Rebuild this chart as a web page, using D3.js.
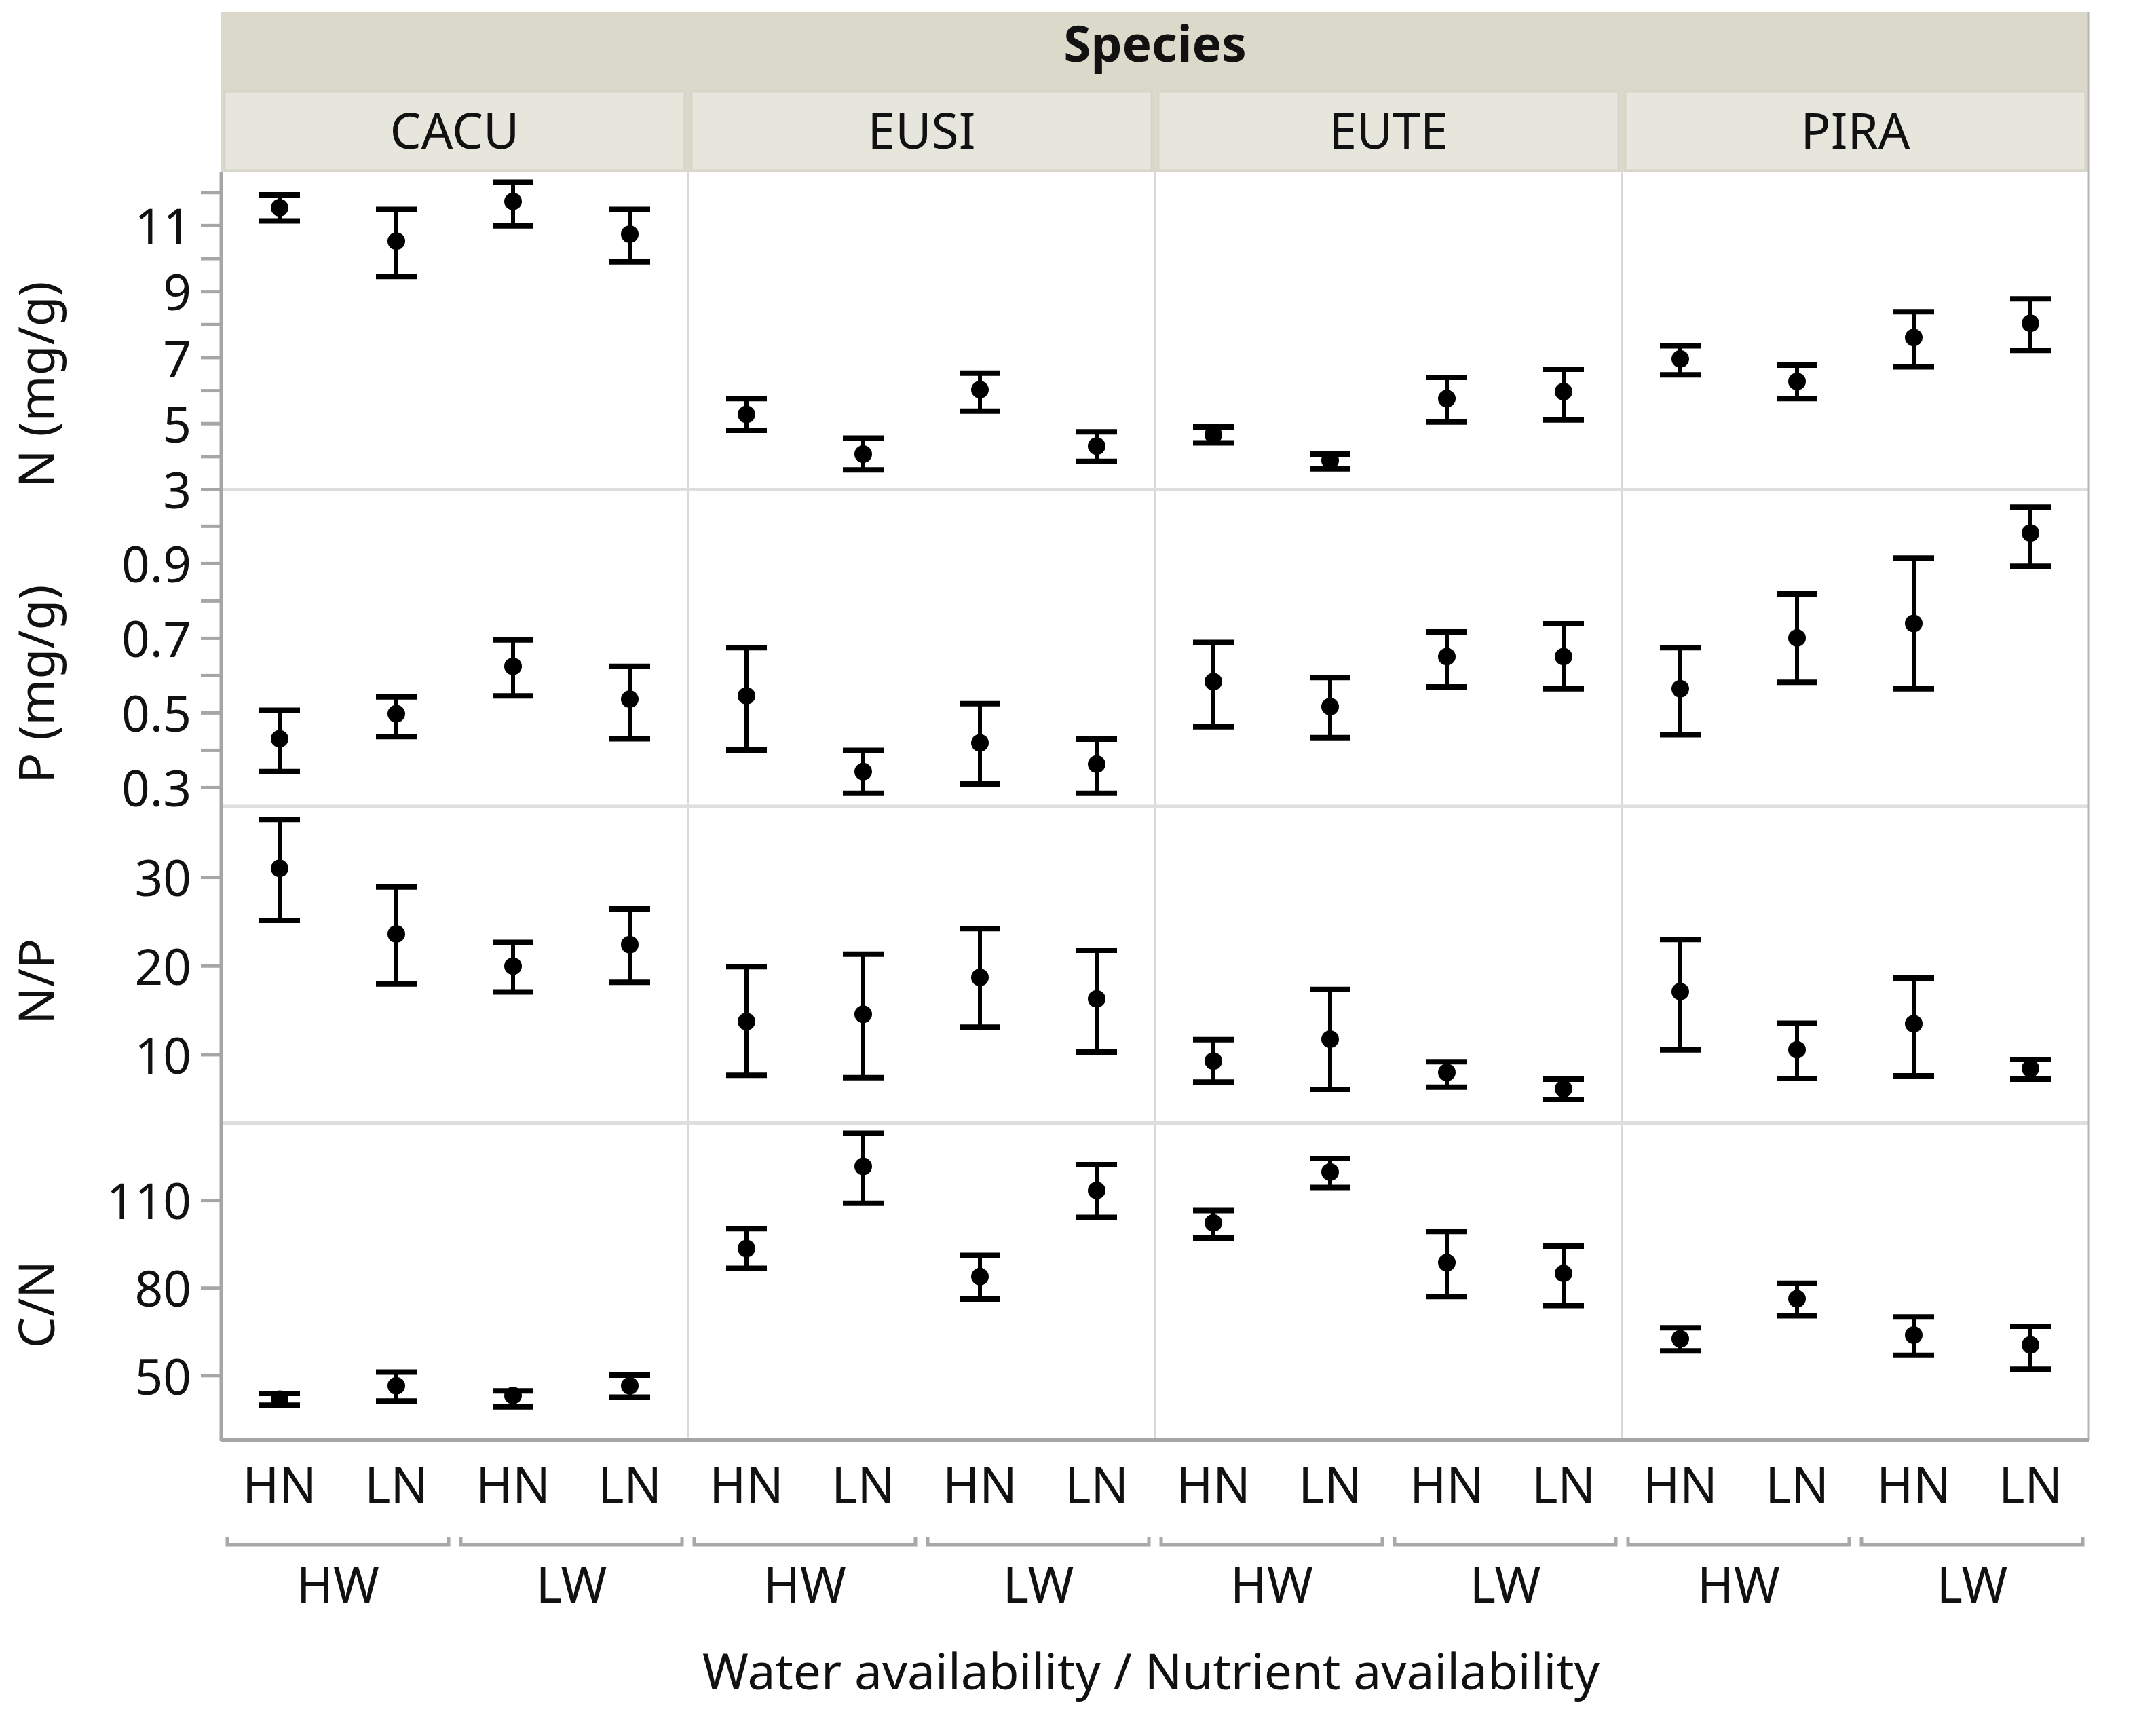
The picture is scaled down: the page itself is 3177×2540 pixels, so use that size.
<!DOCTYPE html>
<html>
<head>
<meta charset="utf-8">
<script src="https://cdn.jsdelivr.net/npm/d3@7"></script>
<style>
  body { margin: 0; background: #fff; }
  text { font-family: "Noto Sans", sans-serif; fill: #111; }
</style>
</head>
<body>
<div id="chart"></div>
<script>
// categories
const species = ["CACU", "EUSI", "EUTE", "PIRA"];
const water = ["HW", "LW"];
const nutrient = ["HN", "LN"];

// values per species, in order HW-HN, HW-LN, LW-HN, LW-LN
const nMean = [11.53, 10.52, 11.72, 10.73, 5.27, 4.07, 6.02, 4.31, 4.65, 3.88, 5.75, 5.96, 6.95, 6.27, 7.60, 8.03];
const nLow  = [11.13, 9.45, 10.98, 9.89, 4.79, 3.59, 5.37, 3.85, 4.41, 3.62, 5.04, 5.10, 6.47, 5.75, 6.71, 7.21];
const nHigh = [11.92, 11.48, 12.30, 11.48, 5.75, 4.55, 6.52, 4.74, 4.89, 4.07, 6.39, 6.64, 7.35, 6.76, 8.38, 8.77];

const pMean = [0.430, 0.497, 0.624, 0.536, 0.545, 0.342, 0.419, 0.362, 0.583, 0.516, 0.650, 0.650, 0.564, 0.700, 0.739, 0.981];
const pLow  = [0.342, 0.436, 0.545, 0.430, 0.400, 0.284, 0.309, 0.284, 0.462, 0.433, 0.569, 0.564, 0.441, 0.581, 0.564, 0.892];
const pHigh = [0.506, 0.542, 0.695, 0.624, 0.674, 0.399, 0.524, 0.429, 0.688, 0.594, 0.716, 0.738, 0.674, 0.818, 0.914, 1.050];

const npMean = [30.97, 23.58, 19.95, 22.37, 13.71, 14.53, 18.68, 16.26, 9.25, 11.72, 7.97, 6.11, 17.08, 10.52, 13.46, 8.41];
const npLow  = [25.11, 17.93, 17.04, 18.12, 7.64, 7.38, 13.08, 10.27, 6.88, 6.06, 6.31, 4.91, 10.52, 7.28, 7.59, 7.21];
const npHigh = [36.48, 28.87, 22.63, 26.40, 19.88, 21.31, 24.17, 21.74, 11.67, 17.33, 9.17, 7.21, 22.95, 13.51, 18.61, 9.43];

const cnMean = [41.8, 46.4, 43.1, 46.4, 93.4, 121.5, 83.8, 113.3, 102.2, 119.6, 88.6, 84.9, 62.5, 76.2, 63.8, 60.4];
const cnLow  = [39.8, 41.2, 39.2, 42.5, 86.7, 108.9, 76.1, 104.1, 97.0, 114.3, 77.0, 73.9, 58.4, 70.4, 56.9, 52.1];
const cnHigh = [43.8, 51.1, 44.7, 50.1, 100.2, 132.9, 91.1, 122.1, 106.4, 124.2, 99.3, 94.2, 66.3, 81.5, 70.0, 66.8];

// tick labels
const nTicks = [3, 5, 7, 9, 11];
const nMinor = [4, 6, 8, 10, 12];
const pTicks = [0.3, 0.5, 0.7, 0.9];
const pMinor = [0.4, 0.6, 0.8, 1.0];
const npTicks = [10, 20, 30];
const cnTicks = [50, 80, 110];

const W = 3177, H = 2540;
const plotL = 326, plotR = 3078, plotT = 255, plotB = 2121;
const rowH = (plotB - plotT) / 4;
const fs = 73;

const rows = [
  { title: "N (mg/g)", domain: [2.99, 12.58], ticks: nTicks, minor: nMinor, fmt: d3.format("d"), mean: nMean, low: nLow, high: nHigh, titleShift: 78 },
  { title: "P (mg/g)", domain: [0.249, 1.097], ticks: pTicks, minor: pMinor, fmt: d3.format(".1f"), mean: pMean, low: pLow, high: pHigh, titleShift: 53 },
  { title: "N/P", domain: [2.27, 37.96], ticks: npTicks, minor: [], fmt: d3.format("d"), mean: npMean, low: npLow, high: npHigh, titleShift: 25 },
  { title: "C/N", domain: [28, 136.4], ticks: cnTicks, minor: [], fmt: d3.format("d"), mean: cnMean, low: cnLow, high: cnHigh, titleShift: 34 }
];

const combos = water.flatMap(w => nutrient.map(n => ({ w, n })));

const svg = d3.select("#chart")
  .append("svg")
  .attr("width", W)
  .attr("height", H);

const x = d3.scaleBand().domain(species).range([plotL, plotR]);
const xi = d3.scaleBand().domain(d3.range(4)).range([0, x.bandwidth()]);

// header strips
svg.append("rect")
  .attr("x", plotL).attr("y", 18)
  .attr("width", plotR - plotL).attr("height", 235)
  .attr("fill", "#dbd9ca");

svg.append("text")
  .attr("x", (plotL + plotR) / 2)
  .attr("y", 91)
  .attr("text-anchor", "middle")
  .attr("font-size", fs)
  .attr("font-weight", "bold")
  .text("Species");

svg.selectAll(".strip")
  .data(species)
  .enter()
  .append("rect")
  .attr("class", "strip")
  .attr("x", d => x(d) + 5)
  .attr("y", 135)
  .attr("width", x.bandwidth() - 10)
  .attr("height", 116)
  .attr("fill", "#e7e6dc")
  .attr("stroke", "#d6d5c9")
  .attr("stroke-width", 3);

svg.selectAll(".stripLabel")
  .data(species)
  .enter()
  .append("text")
  .attr("class", "stripLabel")
  .attr("x", d => x(d) + x.bandwidth() / 2)
  .attr("y", 219)
  .attr("text-anchor", "middle")
  .attr("font-size", fs)
  .text(d => d);

// panel separators
svg.selectAll(".vsep")
  .data(species.slice(1))
  .enter()
  .append("line")
  .attr("x1", d => x(d)).attr("x2", d => x(d))
  .attr("y1", 253).attr("y2", plotB)
  .attr("stroke", "#d9d9d9")
  .attr("stroke-width", 3);

svg.selectAll(".hsep")
  .data(d3.range(1, 4))
  .enter()
  .append("line")
  .attr("x1", plotL).attr("x2", plotR)
  .attr("y1", d => plotT + d * rowH).attr("y2", d => plotT + d * rowH)
  .attr("stroke", "#dedede")
  .attr("stroke-width", 5);

svg.append("line")
  .attr("x1", plotR).attr("x2", plotR)
  .attr("y1", 18).attr("y2", plotB)
  .attr("stroke", "#b5b5b5")
  .attr("stroke-width", 3);

// rows
rows.forEach((row, ri) => {
  const top = plotT + ri * rowH;
  const y = d3.scaleLinear().domain(row.domain).range([top + rowH, top]);

  const labeled = new Set(row.ticks);
  const axis = svg.append("g")
    .attr("transform", `translate(${plotL},0)`)
    .call(d3.axisLeft(y)
      .tickValues(row.ticks.concat(row.minor))
      .tickSize(30)
      .tickPadding(14)
      .tickFormat(d => labeled.has(d) ? row.fmt(d) : ""));
  axis.select(".domain").remove();
  axis.selectAll(".tick line").attr("stroke", "#a6a6a6").attr("stroke-width", 5);
  axis.selectAll(".tick text")
    .attr("font-size", fs)
    .attr("font-family", "Noto Sans, sans-serif")
    .attr("fill", "#111")
    .attr("dy", "0.38em");

  svg.append("text")
    .attr("transform", `translate(80,${top + rowH / 2 + row.titleShift}) rotate(-90)`)
    .attr("text-anchor", "middle")
    .attr("font-size", fs)
    .text(row.title);

  const pts = row.mean.map((m, i) => ({
    sp: species[Math.floor(i / 4)],
    k: i % 4,
    mean: m,
    low: row.low[i],
    high: row.high[i]
  }));

  const g = svg.append("g");
  const cx = d => x(d.sp) + xi(d.k) + xi.bandwidth() / 2;

  g.selectAll(".stem")
    .data(pts)
    .enter()
    .append("line")
    .attr("x1", cx).attr("x2", cx)
    .attr("y1", d => y(d.low)).attr("y2", d => y(d.high))
    .attr("stroke", "#000")
    .attr("stroke-width", 6);

  ["low", "high"].forEach(key => {
    g.selectAll(".cap-" + key)
      .data(pts)
      .enter()
      .append("line")
      .attr("x1", d => cx(d) - 30).attr("x2", d => cx(d) + 30)
      .attr("y1", d => y(d[key])).attr("y2", d => y(d[key]))
      .attr("stroke", "#000")
      .attr("stroke-width", 8);
  });

  g.selectAll("circle")
    .data(pts)
    .enter()
    .append("circle")
    .attr("cx", cx)
    .attr("cy", d => y(d.mean))
    .attr("r", 13)
    .attr("fill", "#000");
});

// axis lines
svg.append("line")
  .attr("x1", plotL).attr("x2", plotL)
  .attr("y1", 253).attr("y2", plotB + 2)
  .attr("stroke", "#a6a6a6")
  .attr("stroke-width", 5);

svg.append("line")
  .attr("x1", plotL).attr("x2", plotR)
  .attr("y1", plotB).attr("y2", plotB)
  .attr("stroke", "#a6a6a6")
  .attr("stroke-width", 6);

// x labels
species.forEach(sp => {
  svg.selectAll(null)
    .data(combos)
    .enter()
    .append("text")
    .attr("x", (d, i) => x(sp) + xi(i) + xi.bandwidth() / 2)
    .attr("y", 2214)
    .attr("text-anchor", "middle")
    .attr("font-size", fs)
    .text(d => d.n);

  water.forEach((w, wi) => {
    const x0 = x(sp) + wi * x.bandwidth() / 2 + 9;
    const x1 = x(sp) + (wi + 1) * x.bandwidth() / 2 - 9;
    svg.append("path")
      .attr("d", `M${x0},2265V2276H${x1}V2265`)
      .attr("fill", "none")
      .attr("stroke", "#a8a8a8")
      .attr("stroke-width", 5);
    svg.append("text")
      .attr("x", (x0 + x1) / 2)
      .attr("y", 2361)
      .attr("text-anchor", "middle")
      .attr("font-size", fs)
      .text(w);
  });
});

svg.append("text")
  .attr("x", (plotL + plotR) / 2 - 6)
  .attr("y", 2489)
  .attr("text-anchor", "middle")
  .attr("font-size", fs)
  .text("Water availability / Nutrient availability");
</script>
</body>
</html>
